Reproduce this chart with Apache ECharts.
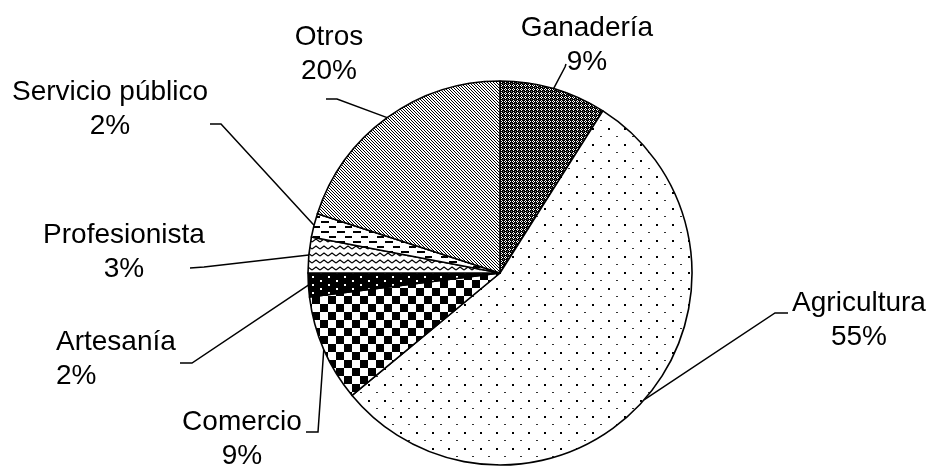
<!DOCTYPE html>
<html>
<head>
<meta charset="utf-8">
<script src="https://cdn.jsdelivr.net/npm/echarts@6/dist/echarts.min.js"></script>
<style>
  html, body { margin: 0; padding: 0; background: #fff; }
  #chart { width: 928px; height: 466px; }
</style>
</head>
<body>
<div id="chart"></div>
<script>
  // == datos ==
  const sectores = ['Ganadería', 'Agricultura', 'Comercio', 'Artesanía', 'Profesionista', 'Servicio público', 'Otros'];
  const porcentajes = [9, 55, 9, 2, 3, 2, 20];

  // == tramas (patrones en blanco y negro) ==
  function tile(w, h, draw) {
    const c = document.createElement('canvas');
    c.width = w;
    c.height = h;
    const ctx = c.getContext('2d');
    draw(ctx);
    return c;
  }
  const tramas = [
    // ganaderia: rejilla oscura
    tile(4, 4, (ctx) => {
      ctx.fillStyle = '#000';
      ctx.fillRect(0, 0, 4, 4);
      ctx.fillStyle = '#fff';
      ctx.fillRect(1, 0, 1, 1);
      ctx.fillRect(0, 1, 1, 1);
      ctx.fillRect(2, 1, 1, 1);
      ctx.fillRect(1, 2, 1, 1);
      ctx.fillStyle = '#777';
      ctx.fillRect(3, 3, 1, 1);
    }),
    // agricultura: puntos dispersos
    tile(16, 16, (ctx) => {
      ctx.fillStyle = '#fff';
      ctx.fillRect(0, 0, 16, 16);
      ctx.fillStyle = '#000';
      ctx.fillRect(0, 0, 2, 2);
      ctx.fillStyle = '#333';
      ctx.fillRect(8, 8, 2, 1);
    }),
    // comercio: tablero
    tile(16, 16, (ctx) => {
      ctx.fillStyle = '#fff';
      ctx.fillRect(0, 0, 16, 16);
      ctx.fillStyle = '#000';
      ctx.fillRect(0, 0, 8, 8);
      ctx.fillRect(8, 8, 8, 8);
    }),
    // artesania: negro con puntos blancos
    tile(16, 8, (ctx) => {
      ctx.fillStyle = '#000';
      ctx.fillRect(0, 0, 16, 8);
      ctx.fillStyle = '#fff';
      ctx.fillRect(0, 0, 2, 2);
      ctx.fillRect(8, 4, 2, 2);
    }),
    // profesionista: zigzag
    tile(8, 7, (ctx) => {
      ctx.fillStyle = '#fff';
      ctx.fillRect(0, 0, 8, 7);
      ctx.strokeStyle = '#000';
      ctx.lineWidth = 1.2;
      ctx.beginPath();
      ctx.moveTo(0, 4);
      ctx.lineTo(4, 1);
      ctx.lineTo(8, 4);
      ctx.stroke();
    }),
    // servicio publico: guiones
    tile(16, 10, (ctx) => {
      ctx.fillStyle = '#fff';
      ctx.fillRect(0, 0, 16, 10);
      ctx.fillStyle = '#000';
      ctx.fillRect(1, 1, 8, 2);
      ctx.fillRect(9, 6, 7, 2);
    }),
    // otros: diagonal punteada
    tile(3, 3, (ctx) => {
      ctx.fillStyle = '#fff';
      ctx.fillRect(0, 0, 3, 3);
      ctx.fillStyle = '#000';
      for (let i = 0; i < 3; i++) ctx.fillRect(i, i, 1, 1);
    }),
  ];

  // == ubicacion de etiquetas (como en el original) ==
  const etiquetas = [
    { x: 587, y: 45, align: 'center', codo: [565, 67], fin: [566, 64] },
    { x: 859, y: 320, align: 'center', codo: [775, 313], fin: [788, 313] },
    { x: 242, y: 439, align: 'center', codo: [318, 432], fin: [306, 432] },
    { x: 56, y: 359, align: 'left', codo: [192, 363], fin: [180, 363] },
    { x: 124, y: 252, align: 'center', codo: [204, 267], fin: [190, 268] },
    { x: 110, y: 109, align: 'center', codo: [221, 124], fin: [210, 124] },
    { x: 329, y: 54, align: 'center', codo: [337, 99], fin: [326, 99] },
  ];

  const chart = echarts.init(document.getElementById('chart'));
  const option = {
    backgroundColor: '#fff',
    animation: false,
    series: [
      {
        type: 'pie',
        center: [500, 273],
        radius: 192,
        startAngle: 90,
        clockwise: true,
        avoidLabelOverlap: false,
        silent: true,
        itemStyle: {
          borderColor: '#000',
          borderWidth: 1.6,
        },
        label: {
          show: true,
          formatter: '{b}\n{c}%',
          color: '#000',
          fontFamily: 'Liberation Sans, Arial, sans-serif',
          fontSize: 28,
          lineHeight: 34,
        },
        labelLine: {
          show: true,
          lineStyle: { color: '#000', width: 1.5 },
        },
        labelLayout: function (params) {
          const e = etiquetas[params.dataIndex];
          const p0 = params.labelLinePoints ? params.labelLinePoints[0] : e.codo;
          return {
            x: e.x,
            y: e.y,
            align: e.align,
            verticalAlign: 'middle',
            labelLinePoints: [p0, e.codo, e.fin],
          };
        },
        data: sectores.map((s, i) => ({
          name: s,
          value: porcentajes[i],
          itemStyle: { color: { image: tramas[i], repeat: 'repeat' } },
        })),
      },
    ],
  };
  chart.setOption(option);
</script>
</body>
</html>
